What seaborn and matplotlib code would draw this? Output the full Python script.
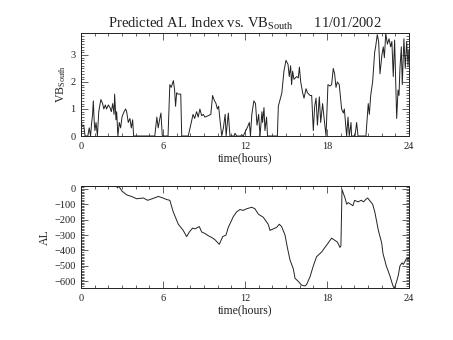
import numpy as np
import pandas as pd
import matplotlib
matplotlib.use("Agg")
import matplotlib.pyplot as plt
from matplotlib.ticker import MultipleLocator
import seaborn as sns

# Southward solar-wind field component (hours, value)
vb_hours = [
    0.0, 0.08, 0.2, 0.3, 0.37, 0.5, 0.6, 0.7, 0.78, 0.85,
    0.9, 0.97, 1.02, 1.1, 1.2, 1.3, 1.4, 1.46, 1.58, 1.67,
    1.78, 1.87, 2.0, 2.12, 2.22, 2.32, 2.42, 2.46, 2.56, 2.61,
    2.7, 2.8, 2.9, 3.0, 3.15, 3.27, 3.34, 3.46, 3.58, 3.68,
    3.78, 3.85, 5.4, 5.55, 5.65, 5.75, 5.85, 5.95, 6.37, 6.5,
    6.6, 6.76, 6.85, 6.92, 7.0, 7.1, 7.3, 7.37, 7.85, 8.2,
    8.32, 8.46, 8.58, 8.7, 8.83, 8.95, 9.07, 9.3, 9.5, 9.63,
    9.73, 9.88, 9.98, 10.07, 10.17, 10.3, 10.42, 10.55, 10.62, 10.78,
    10.9, 11.2, 11.27, 11.39, 11.7, 11.75, 11.87, 12.2, 12.32, 12.4,
    12.5, 12.65, 12.77, 12.88, 13.0, 13.1, 13.24, 13.29, 13.39, 13.46,
    13.58, 13.65, 14.37, 14.44, 14.7, 14.85, 15.0, 15.15, 15.24, 15.34,
    15.41, 15.49, 15.58, 15.78, 15.9, 15.98, 16.08, 16.22, 16.32, 16.47,
    16.57, 16.76, 16.88, 17.0, 17.1, 17.2, 17.3, 17.44, 17.54, 17.68,
    17.78, 17.93, 18.07, 18.22, 18.34, 18.46, 18.56, 18.66, 18.76, 18.9,
    19.07, 19.2, 19.27, 19.44, 19.54, 19.63, 19.76, 19.8, 20.05, 20.17,
    20.27, 20.85, 21.02, 21.1, 21.2, 21.34, 21.49, 21.56, 21.68, 21.78,
    21.88, 22.02, 22.12, 22.2, 22.3, 22.42, 22.54, 22.66, 22.75, 22.85,
    22.95, 23.05, 23.1, 23.2, 23.27, 23.34, 23.44, 23.51, 23.63, 23.73,
    23.83, 23.93, 24.0,
]
vb_south = [
    0.65, 0.35, 0.4, 0.0, 0.0, 0.0, 0.3, 0.0, 0.5, 0.8,
    1.3, 0.5, 0.2, 0.5, 0.0, 0.9, 1.2, 1.35, 1.2, 1.0,
    1.15, 1.0, 1.15, 1.05, 0.9, 1.2, 0.8, 1.55, 0.6, 0.9,
    0.0, 0.5, 0.3, 0.7, 0.9, 1.0, 0.9, 0.5, 0.65, 0.3,
    0.6, 0.0, 0.0, 0.7, 0.3, 0.6, 0.85, 0.0, 0.0, 1.9,
    1.8, 2.05, 1.7, 1.1, 1.6, 1.55, 1.55, 0.0, 0.0, 0.8,
    0.65, 0.9, 0.7, 1.0, 0.75, 0.8, 0.7, 0.75, 0.8, 1.5,
    1.35, 1.2, 1.0, 1.1, 0.6, 0.0, 0.3, 0.8, 0.0, 0.85,
    0.0, 0.0, 0.1, 0.0, 0.0, 0.05, 0.0, 0.35, 0.5, 0.0,
    0.8, 1.3, 1.2, 0.4, 0.8, 0.0, 0.9, 0.5, 1.05, 0.2,
    0.7, 0.0, 0.0, 1.1, 1.6, 2.4, 2.8, 2.65, 2.2, 2.6,
    1.9, 2.4, 2.1, 2.2, 2.15, 2.55, 2.0, 1.6, 1.4, 1.75,
    1.6, 1.5, 1.5, 0.2, 1.1, 1.4, 0.4, 1.45, 0.5, 1.2,
    0.7, 0.0, 1.9, 1.85, 1.9, 2.5, 2.3, 1.8, 2.0, 1.9,
    1.0, 0.85, 1.0, 0.0, 0.7, 0.0, 0.5, 0.0, 0.0, 0.5,
    0.0, 0.0, 1.2, 0.8, 1.5, 2.0, 3.1, 3.3, 3.75, 3.5,
    2.3, 3.0, 3.3, 2.9, 3.8, 3.4, 3.6, 3.3, 3.5, 2.2,
    3.55, 1.7, 0.65, 1.7, 1.5, 2.5, 3.3, 1.9, 3.6, 2.5,
    3.5, 2.6, 3.2,
]

# Predicted AL index (hours, nT)
al_hours = [
    0.0, 2.6, 2.68, 2.75, 2.85, 3.0, 3.34, 3.7, 4.07, 4.56,
    4.88, 5.3, 5.66, 6.0, 6.27, 6.5, 6.75, 7.12, 7.48, 7.73,
    7.93, 8.17, 8.34, 8.66, 8.83, 9.07, 9.32, 9.56, 9.8, 10.12,
    10.37, 10.61, 10.78, 11.15, 11.39, 11.63, 11.88, 12.12, 12.49, 12.73,
    12.98, 13.34, 13.7, 13.83, 14.07, 14.32, 14.51, 14.68, 14.93, 15.1,
    15.29, 15.54, 15.66, 15.9, 16.15, 16.39, 16.51, 16.76, 17.0, 17.24,
    17.61, 17.85, 18.1, 18.34, 18.59, 18.76, 18.95, 19.02, 19.1, 19.32,
    19.44, 19.56, 19.73, 19.9, 20.02, 20.27, 20.51, 20.68, 20.83, 20.98,
    21.15, 21.34, 21.5, 21.76, 22.0, 22.1, 22.34, 22.59, 22.83, 22.93,
    23.1, 23.22, 23.34, 23.49, 23.59, 23.71, 23.83, 23.93, 24.0,
]
al_index = [
    15, 15, 5, 20, 5, -15, -40, -50, -65, -60,
    -75, -62, -50, -60, -70, -75, -150, -230, -270, -310,
    -280, -255, -260, -245, -280, -290, -305, -315, -330, -360,
    -310, -300, -250, -180, -150, -135, -140, -130, -120, -130,
    -165, -185, -230, -270, -260, -250, -230, -245, -300, -380,
    -460, -520, -580, -600, -625, -630, -620, -570, -500, -440,
    -410, -380, -350, -320, -335, -345, -380, -370, -5, -60,
    -100, -90, -100, -110, -75, -85, -75, -85, -70, -60,
    -80, -100, -150, -270, -350, -420, -500, -560, -630, -645,
    -600, -560, -500, -480, -490, -470, -450, -460, -445,
]

hour_ticks = [0, 6, 12, 18, 24]

sns.set_theme(style="ticks")
plt.rcParams["font.family"] = ["Liberation Serif", "DejaVu Serif"]
plt.rcParams["mathtext.fontset"] = "custom"
plt.rcParams["mathtext.rm"] = "Liberation Serif"
plt.rcParams["mathtext.it"] = "Liberation Serif"

ink = "#222222"
fig = plt.figure(figsize=(4.53, 3.40), dpi=100)
ax1 = fig.add_axes([0.1788, 0.600, 0.724, 0.302])
ax2 = fig.add_axes([0.1788, 0.152, 0.724, 0.302])

df_vb = pd.DataFrame({"hours": vb_hours, "vb": vb_south})
df_al = pd.DataFrame({"hours": al_hours, "al": al_index})

sns.lineplot(data=df_vb, x="hours", y="vb", ax=ax1, color=ink, lw=0.7,
             estimator=None, sort=False)
sns.lineplot(data=df_al, x="hours", y="al", ax=ax2, color=ink, lw=0.7,
             estimator=None, sort=False)

ax1.set_ylim(min(vb_south), max(vb_south))
ax2.set_ylim(min(al_index), max(al_index))
ax1.yaxis.set_major_locator(MultipleLocator(1))
ax1.yaxis.set_minor_locator(MultipleLocator(0.1))
ax2.yaxis.set_major_locator(MultipleLocator(100))
ax2.yaxis.set_minor_locator(MultipleLocator(10))

for ax in (ax1, ax2):
    ax.set_xlim(0, 24)
    ax.set_xticks(hour_ticks)
    ax.xaxis.set_minor_locator(MultipleLocator(1))
    ax.tick_params(which="both", direction="in", top=True, right=True,
                   width=0.5, colors=ink, labelsize=7.5, pad=4)
    ax.tick_params(which="major", length=5)
    ax.tick_params(which="minor", length=2.5)
    for sp in ax.spines.values():
        sp.set_linewidth(0.7)
        sp.set_color(ink)
    ax.set_xlabel("time(hours)", fontsize=8.5, color=ink, labelpad=1)

ax1.set_ylabel(r"VB$_{\mathrm{South}}$", fontsize=8.5, color=ink, labelpad=2)
ax2.set_ylabel("AL", fontsize=8.5, color=ink, labelpad=2)
ax1.set_title(r"Predicted AL Index vs. VB$_{\mathrm{South}}$      11/01/2002",
              fontsize=10.5, color=ink, pad=4)

fig.savefig("out.png", dpi=100, facecolor="white")
